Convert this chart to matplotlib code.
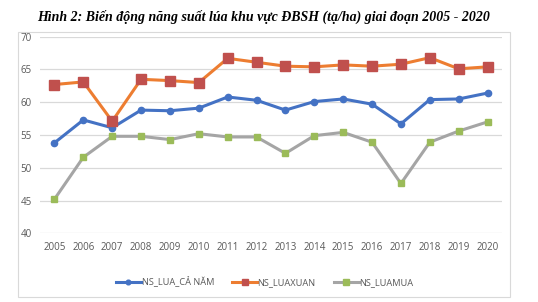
import matplotlib.pyplot as plt
from matplotlib.patches import Rectangle

# data
years = list(range(2005, 2021))
ns_lua_ca_nam = [53.8, 57.3, 56.1, 58.8, 58.7, 59.1, 60.8, 60.3, 58.8, 60.1, 60.5, 59.7, 56.7, 60.4, 60.5, 61.4]
ns_luaxuan = [62.7, 63.1, 57.1, 63.5, 63.3, 63.0, 66.7, 66.1, 65.5, 65.4, 65.7, 65.5, 65.8, 66.8, 65.1, 65.4]
ns_luamua = [45.2, 51.6, 54.8, 54.8, 54.3, 55.2, 54.7, 54.7, 52.2, 54.9, 55.4, 53.9, 47.6, 53.9, 55.6, 57.0]
series_names = ['NS_LUA_CẢ NĂM', 'NS_LUAXUAN', 'NS_LUAMUA']
title = 'Hình 2: Biến động năng suất lúa khu vực ĐBSH (tạ/ha) giai đoạn 2005 - 2020'

plt.rcParams['font.family'] = ['Open Sans', 'DejaVu Sans']

fig = plt.figure(figsize=(5.38, 3.02), dpi=100)

# chart frame
fig.patches.append(Rectangle((18 / 538, 5 / 302), 492 / 538, 265 / 302,
                             transform=fig.transFigure, fill=False,
                             edgecolor='#D9D9D9', linewidth=0.8))

fig.text(264 / 538, 1 - 17 / 302, title, ha='center', va='center',
         family='Liberation Serif', fontstyle='italic', fontweight='bold', fontsize=10)

ax = fig.add_axes([40 / 538, 1 - 233.3 / 302, 462 / 538, 196.6 / 302])

ax.plot(years, ns_lua_ca_nam, color='#4472C4', linewidth=2.2, marker='o',
        markersize=4.5, markerfacecolor='#4472C4', markeredgecolor='#4472C4',
        label=series_names[0])
ax.plot(years, ns_luaxuan, color='#ED7D31', linewidth=2.2, marker='s',
        markersize=6.5, markerfacecolor='#C0504D', markeredgecolor='#C0504D',
        label=series_names[1])
ax.plot(years, ns_luamua, color='#A5A5A5', linewidth=2.2, marker='s',
        markersize=5, markerfacecolor='#9BBB59', markeredgecolor='#9BBB59',
        label=series_names[2])

ax.set_xlim(2004.5, 2020.5)
ax.set_ylim(40, 70)
ax.set_yticks(range(40, 71, 5))
ax.set_xticks(years)
ax.set_xticklabels([str(y) for y in years])
ax.grid(axis='y', color='#D9D9D9', linewidth=0.9)
ax.set_axisbelow(True)
for s in ax.spines.values():
    s.set_visible(False)
ax.tick_params(length=0, labelsize=7, colors='#595959', pad=6)

ax.legend(loc='center', bbox_to_anchor=(0.487, -0.245), ncol=3, frameon=False,
          fontsize=6.7, handlelength=2.6, columnspacing=2.0, handletextpad=0.1,
          markerscale=0.75, labelcolor='#595959')

plt.savefig('out.png', dpi=100)
plt.close()
